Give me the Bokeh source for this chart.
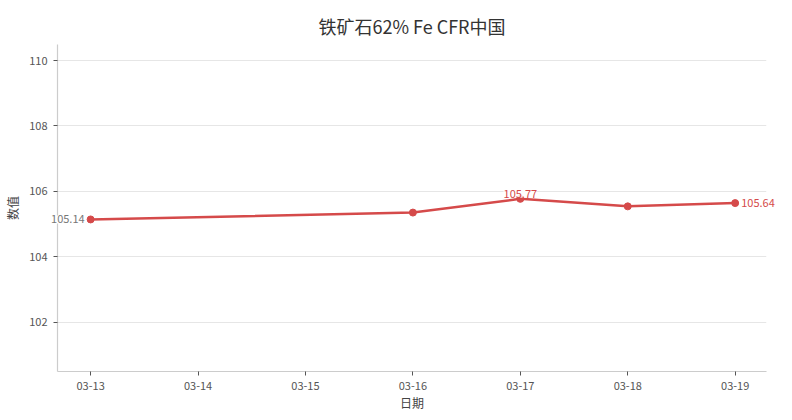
from datetime import datetime, timedelta
from bokeh.plotting import figure
from bokeh.models import (ColumnDataSource, DatetimeTickFormatter, DaysTicker, Range1d,
                          FixedTicker)
from bokeh.embed import file_html
from bokeh.resources import INLINE

dates = ["2025-03-13", "2025-03-16", "2025-03-17", "2025-03-18", "2025-03-19"]
values = [105.14, 105.35, 105.77, 105.54, 105.64]
label_left = [0]
label_above = [2]
label_right = [4]
y_ticks = [102, 104, 106, 108, 110]

xs = [datetime.strptime(d, "%Y-%m-%d") for d in dates]
src = ColumnDataSource(dict(x=xs, y=values))

FONT = "Noto Sans CJK SC"
RED = "#d54a4a"

p = figure(width=784, height=414, x_axis_type="datetime", output_backend="svg",
           toolbar_location=None, title="铁矿石62% Fe CFR中国",
           min_border_left=57, min_border_right=18, min_border_top=44, min_border_bottom=43)
p.x_range = Range1d(xs[0] - timedelta(hours=7.4), xs[-1] + timedelta(hours=7))
p.y_range = Range1d(100.49, 110.49)

p.title.align = "center"
p.title.vertical_align = "top"
p.title.text_font = FONT
p.title.text_font_size = "18px"
p.title.text_font_style = "normal"
p.title.text_color = "#333333"
p.title.standoff = 8

p.outline_line_color = None
p.xgrid.grid_line_color = None
p.ygrid.grid_line_color = "#e6e6e6"
p.ygrid.grid_line_width = 1

p.yaxis.ticker = FixedTicker(ticks=y_ticks)
p.xaxis.ticker = DaysTicker(days=list(range(1, 32)))
p.xaxis.formatter = DatetimeTickFormatter(days="%m-%d", months="%m-%d")

for ax in (p.xaxis, p.yaxis):
    ax.axis_line_color = "#cccccc"
    ax.axis_line_width = 1.2
    ax.major_tick_line_color = "#555555"
    ax.major_tick_in = 0
    ax.major_tick_out = 4
    ax.minor_tick_line_color = None
    ax.major_label_text_font = FONT
    ax.major_label_text_font_size = "11px"
    ax.major_label_text_color = "#555555"
    ax.axis_label_text_font = FONT
    ax.axis_label_text_font_size = "12px"
    ax.axis_label_text_font_style = "normal"
    ax.axis_label_text_color = "#444444"

p.xaxis.axis_label = "日期"
p.yaxis.axis_label = "数值"
p.xaxis.major_label_standoff = 6
p.xaxis.axis_label_standoff = 1
p.yaxis.major_label_standoff = 6
p.yaxis.axis_label_standoff = 5

p.line("x", "y", source=src, line_color=RED, line_width=2.5)
p.scatter("x", "y", source=src, size=7, fill_color=RED, line_color=RED)


def sub(idx):
    return ColumnDataSource(dict(x=[xs[i] for i in idx], y=[values[i] for i in idx],
                                 t=[f"{values[i]:.2f}" for i in idx]))


common = dict(text="t", text_font={"value": FONT}, text_font_size="11px", level="overlay")
p.text("x", "y", source=sub(label_left), x_offset=-6, text_align="right",
       text_baseline="middle", text_color="#777777", background_fill_color="white",
       **common)
p.text("x", "y", source=sub(label_right), x_offset=6, text_align="left",
       text_baseline="middle", text_color=RED, **common)
p.text("x", "y", source=sub(label_above), y_offset=-1, text_align="center",
       text_baseline="bottom", text_color=RED, background_fill_color="white",
       background_fill_alpha=0.85, **common)

open("out.html", "w").write(file_html(p, INLINE))
